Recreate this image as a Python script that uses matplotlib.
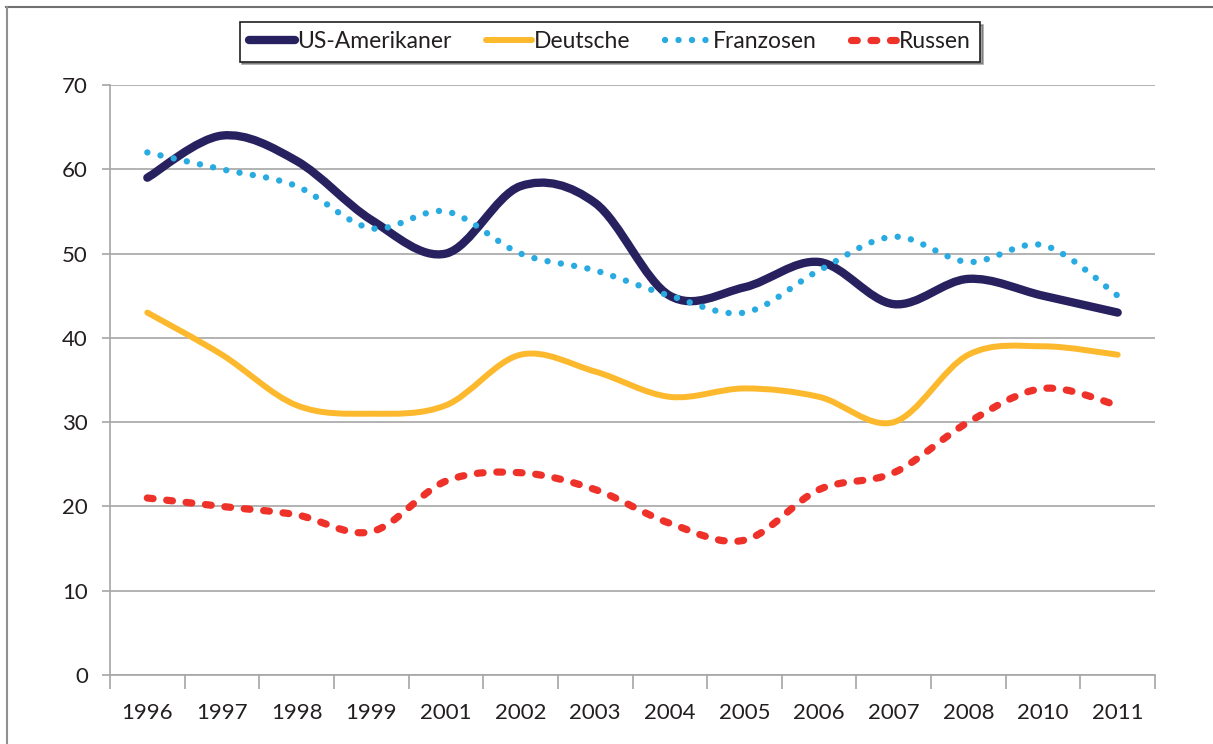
import numpy as np
import matplotlib
matplotlib.use("Agg")
import matplotlib.pyplot as plt
from matplotlib.path import Path
from matplotlib.patches import PathPatch
from matplotlib.lines import Line2D

plt.rcParams['font.family'] = ['Lato', 'DejaVu Sans']

years = ["1996", "1997", "1998", "1999", "2001", "2002", "2003",
         "2004", "2005", "2006", "2007", "2008", "2010", "2011"]
us = [59, 64, 61, 54, 50, 58, 56, 45, 46, 49, 44, 47, 45, 43]
deutsche = [43, 38, 32, 31, 32, 38, 36, 33, 34, 33, 30, 38, 39, 38]
franzosen = [62, 60, 58, 53, 55, 50, 48, 45, 43, 48, 52, 49, 51, 45]
russen = [21, 20, 19, 17, 23, 24, 22, 18, 16, 22, 24, 30, 34, 32]

names = ["US-Amerikaner", "Deutsche", "Franzosen", "Russen"]
colors = ["#27225f", "#fdb92d", "#29abe2", "#ee3129"]
widths = [6.0, 4.3, 4.6, 5.2]
styles = ["solid", "solid", (0, (0.01, 2.1)), (0, (0.8, 1.9))]


def smooth_path(vals):
    # excel-like smoothed line: cubic bezier through every point
    x = np.arange(len(vals), dtype=float)
    y = np.asarray(vals, dtype=float)
    pts = np.column_stack([x, y])
    ext = np.vstack([pts[0], pts, pts[-1]])
    verts = [pts[0]]
    codes = [Path.MOVETO]
    for i in range(len(pts) - 1):
        p0, p1, p2, p3 = ext[i], ext[i + 1], ext[i + 2], ext[i + 3]
        verts += [p1 + (p2 - p0) / 6, p2 - (p3 - p1) / 6, p2]
        codes += [Path.CURVE4] * 3
    return Path(verts, codes)


fig = plt.figure(figsize=(12.13, 7.44), dpi=100)
ax = fig.add_axes([110 / 1213, 1 - 675 / 744, 1045 / 1213, 590 / 744])

for vals, c, lw, ls in zip([us, deutsche, franzosen, russen], colors, widths, styles):
    ax.add_patch(PathPatch(smooth_path(vals), fill=False, edgecolor=c,
                           linewidth=lw, linestyle=ls, capstyle="round",
                           joinstyle="round", zorder=3))

ax.set_xlim(-0.5, len(years) - 0.5)
ax.set_ylim(0, 70)
ax.set_yticks(range(0, 71, 10))
ax.set_xticks(range(len(years)), years)
ax.set_xticks(np.arange(-0.5, len(years), 1), minor=True)
ax.tick_params(axis="x", which="major", length=0, pad=20, labelsize=16, labelcolor="#231f20")
ax.tick_params(axis="x", which="minor", length=10, width=1.2, color="#a6a6a6")
ax.tick_params(axis="y", length=6, width=1.2, color="#a6a6a6", pad=10,
               labelsize=16, labelcolor="#231f20")
ax.grid(axis="y", color="#a6a6a6", linewidth=1.2)
ax.set_axisbelow(True)
for s in ["top", "right"]:
    ax.spines[s].set_visible(False)
for s in ["left", "bottom"]:
    ax.spines[s].set_color("#a6a6a6")
    ax.spines[s].set_linewidth(1.2)

handles = [Line2D([], [], color=c, linewidth=lw, linestyle=ls,
                  solid_capstyle="round", dash_capstyle="round")
           for c, lw, ls in zip(colors, widths, styles)]
leg = ax.legend(handles, names, ncol=4, loc="center",
                bbox_to_anchor=(610 / 1213, 1 - 42 / 744),
                bbox_transform=fig.transFigure, fontsize=16.5,
                handlelength=2.0, handletextpad=0.1, columnspacing=1.5,
                frameon=True, fancybox=False, shadow=True, borderpad=0.4)
leg.get_frame().set_edgecolor("#231f20")
leg.get_frame().set_linewidth(1.2)
for t in leg.get_texts():
    t.set_color("#231f20")

# outer frame of the chart box
fig.add_artist(Line2D([6 / 1213, 1], [1 - 7 / 744] * 2, color="#707070",
                      linewidth=1.5, transform=fig.transFigure))
fig.add_artist(Line2D([7 / 1213] * 2, [0, 1 - 7 / 744], color="#909090",
                      linewidth=1.5, transform=fig.transFigure))

fig.savefig("out.png", dpi=100)
plt.close(fig)
